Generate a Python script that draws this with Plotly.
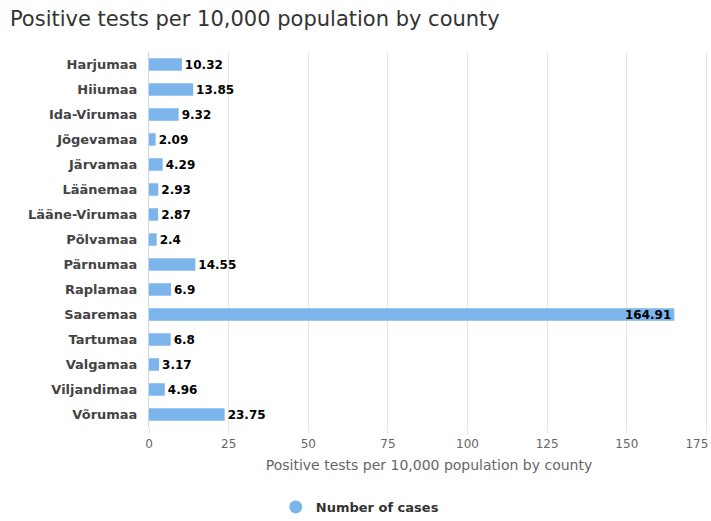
import plotly.graph_objects as go

counties = ["Harjumaa", "Hiiumaa", "Ida-Virumaa", "Jõgevamaa", "Järvamaa", "Läänemaa",
            "Lääne-Virumaa", "Põlvamaa", "Pärnumaa", "Raplamaa", "Saaremaa", "Tartumaa",
            "Valgamaa", "Viljandimaa", "Võrumaa"]
values = [10.32, 13.85, 9.32, 2.09, 4.29, 2.93, 2.87, 2.4, 14.55, 6.9, 164.91, 6.8, 3.17, 4.96, 23.75]
labels = ["10.32", "13.85", "9.32", "2.09", "4.29", "2.93", "2.87", "2.4", "14.55", "6.9",
          "164.91", "6.8", "3.17", "4.96", "23.75"]
x_ticks = [0, 25, 50, 75, 100, 125, 150, 175]

FONT = "DejaVu Sans"
BAR = "#7cb5ec"

positions = ["inside" if v > 150 else "outside" for v in values]
lab_font = dict(family=FONT, size=12, color="#000000", weight="bold")
# last tick label is kept inside the chart (shifted left), like the reference
tick_text = [str(t) for t in x_ticks]
tick_text[-1] = tick_text[-1] + "\u00a0" * 5

fig = go.Figure()
fig.add_trace(go.Bar(
    x=values, y=counties, orientation="h",
    marker=dict(color=BAR, line=dict(width=0)),
    text=labels, textposition=positions, insidetextanchor="end",
    constraintext="none",
    textfont=lab_font, outsidetextfont=lab_font, insidetextfont=lab_font,
    cliponaxis=False, showlegend=False, hoverinfo="x+y",
))
fig.add_trace(go.Scatter(
    x=[None], y=[None], mode="markers", name="Number of cases",
    marker=dict(color=BAR, size=13, symbol="circle"), showlegend=True,
))

fig.update_layout(
    width=711, height=521,
    margin=dict(l=149, r=2, t=52, b=94, autoexpand=False),
    paper_bgcolor="white", plot_bgcolor="white",
    bargap=0.5,
    title=dict(text="Positive tests per 10,000 population by county",
               x=0.014, xanchor="left", y=0.965, yanchor="middle",
               font=dict(family=FONT, size=21, color="#333333")),
    xaxis=dict(range=[0, 175.8], tickvals=x_ticks, ticktext=tick_text,
               ticklabeloverflow="allow",
               showgrid=True, gridcolor="#e6e6e6",
               gridwidth=1, zeroline=False, showline=False, automargin=False,
               ticks="outside", ticklen=6, tickcolor="#e6e6e6",
               tickfont=dict(family=FONT, size=12, color="#666666"),
               title=dict(text="Positive tests per 10,000 population by county",
                          font=dict(family=FONT, size=14, color="#666666"), standoff=9)),
    yaxis=dict(autorange="reversed", showline=True, linecolor="#ccd6eb", linewidth=1,
               showgrid=False, ticks="", ticklabelstandoff=8, automargin=False,
               tickfont=dict(family=FONT, size=13, color="#444444", weight="bold")),
    legend=dict(orientation="h", xref="container", x=0.506, xanchor="center",
                yref="container", y=0.027, yanchor="middle",
                font=dict(family=FONT, size=13, color="#333333", weight="bold")),
)

fig.write_html("out.html", config={"displayModeBar": False},
               post_script="document.body.style.margin='0';document.body.style.overflow='hidden';")
